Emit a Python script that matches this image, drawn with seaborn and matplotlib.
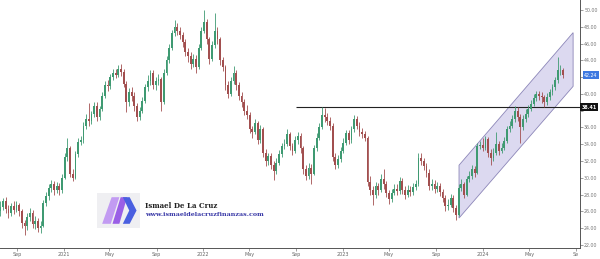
import numpy as np
import pandas as pd
import matplotlib
matplotlib.use("Agg")
import matplotlib.pyplot as plt
import matplotlib.dates as mdates
from matplotlib.patches import Polygon
import seaborn as sns

# ---------------- data (weekly candles) ----------------
start_week = "2020-07-20"
opens = [
    26.0, 26.5, 27.2, 26.3, 25.8, 26.6, 26.2, 26.8, 26.0, 24.6,
    24.2, 25.3, 25.8, 24.5, 24.8, 24.0, 24.3, 27.0, 27.8, 28.8,
    29.2, 28.6, 29.0, 28.5, 30.0, 32.5, 33.5, 30.5, 30.0, 32.8,
    34.3, 34.5, 36.2, 37.0, 36.8, 37.6, 38.6, 37.2, 38.2, 39.8,
    41.0, 40.9, 42.0, 42.5, 42.3, 43.0, 42.6, 41.2, 39.0, 40.2,
    39.8, 38.5, 37.2, 38.0, 39.2, 40.8, 41.5, 42.5, 41.0, 41.5,
    41.8, 39.0, 42.5, 44.0, 45.5, 47.2, 48.0, 47.5, 47.0, 46.2,
    45.0, 44.5, 43.6, 44.2, 43.2, 45.5, 47.5, 48.6, 46.5, 44.2,
    45.8, 47.5, 46.5, 44.0, 43.2, 41.0, 40.0, 41.5, 42.5, 41.0,
    39.8, 39.0, 38.0, 37.5, 35.8, 35.5, 36.5, 34.5, 35.8, 33.0,
    32.0, 32.6, 31.5, 30.8, 31.8, 32.8, 33.8, 34.0, 35.2, 33.8,
    33.2, 34.5, 35.0, 33.5, 31.0, 30.2, 31.2, 30.5, 33.5, 34.8,
    36.0, 37.5, 37.2, 36.8, 36.2, 32.5, 31.5, 32.2, 33.2, 34.2,
    35.3, 34.5, 35.8, 37.0, 36.2, 35.5, 35.2, 34.8, 29.5, 28.6,
    28.0, 29.0, 28.6, 29.8, 29.2, 28.2, 27.5, 28.2, 28.7, 28.4,
    29.6, 28.6, 28.0, 28.6, 28.3, 28.9, 29.2, 32.3, 32.0, 31.4,
    30.6, 29.0, 29.3, 28.7, 29.0, 28.3, 27.6, 26.6, 26.8, 27.6,
    26.4, 25.6, 28.8, 29.2, 28.0, 29.8, 30.2, 31.0, 30.6, 33.8,
    33.9, 33.6, 34.6, 33.0, 32.3, 33.0, 34.0, 33.2, 33.6, 34.4,
    35.8, 36.2, 37.0, 38.0, 37.2, 36.0, 37.0, 37.6, 38.2, 38.8,
    39.5, 40.0, 39.8, 39.6, 39.0, 39.6, 40.2, 40.8, 41.6, 42.8, 42.9,
]
closes = [
    26.5, 27.2, 26.3, 25.8, 26.6, 26.2, 26.8, 26.0, 24.6, 24.2,
    25.3, 25.8, 24.5, 24.8, 24.0, 24.3, 27.0, 27.8, 28.8, 29.2,
    28.6, 29.0, 28.5, 30.0, 32.5, 33.5, 30.5, 30.0, 32.8, 34.3,
    34.5, 36.2, 37.0, 36.8, 37.6, 38.6, 37.2, 38.2, 39.8, 41.0,
    40.9, 42.0, 42.5, 42.3, 43.0, 42.6, 41.2, 39.0, 40.2, 39.8,
    38.5, 37.2, 38.0, 39.2, 40.8, 41.5, 42.5, 41.0, 41.5, 41.8,
    39.0, 42.5, 44.0, 45.5, 47.2, 48.0, 47.5, 47.0, 46.2, 45.0,
    44.5, 43.6, 44.2, 43.2, 45.5, 47.5, 48.6, 46.5, 44.2, 45.8,
    47.5, 46.5, 44.0, 43.2, 41.0, 40.0, 41.5, 42.5, 41.0, 39.8,
    39.0, 38.0, 37.5, 35.8, 35.5, 36.5, 34.5, 35.8, 33.0, 32.0,
    32.6, 31.5, 30.8, 31.8, 32.8, 33.8, 34.0, 35.2, 33.8, 33.2,
    34.5, 35.0, 33.5, 31.0, 30.2, 31.2, 30.5, 33.5, 34.8, 36.0,
    37.5, 37.2, 36.8, 36.2, 32.5, 31.5, 32.2, 33.2, 34.2, 35.3,
    34.5, 35.8, 37.0, 36.2, 35.5, 35.2, 34.8, 29.5, 28.6, 28.0,
    29.0, 28.6, 29.8, 29.2, 28.2, 27.5, 28.2, 28.7, 28.4, 29.6,
    28.6, 28.0, 28.6, 28.3, 28.9, 29.2, 32.3, 32.0, 31.4, 30.6,
    29.0, 29.3, 28.7, 29.0, 28.3, 27.6, 26.6, 26.8, 27.6, 26.4,
    25.6, 28.8, 29.2, 28.0, 29.8, 30.2, 31.0, 30.6, 33.8, 33.9,
    33.6, 34.6, 33.0, 32.3, 33.0, 34.0, 33.2, 33.6, 34.4, 35.8,
    36.2, 37.0, 38.0, 37.2, 36.0, 37.0, 37.6, 38.2, 38.8, 39.5,
    40.0, 39.8, 39.6, 39.0, 39.6, 40.2, 40.8, 41.6, 42.8, 42.9, 42.24,
]
highs = [
    27.2, 27.6, 27.7, 26.8, 27.0, 27.2, 27.2, 27.0, 26.3, 25.0,
    25.8, 26.4, 26.1, 25.4, 25.2, 24.9, 27.4, 28.3, 29.3, 29.7,
    29.6, 29.5, 29.4, 30.4, 32.9, 34.8, 33.8, 31.0, 33.2, 34.7,
    35.0, 36.6, 37.6, 38.9, 38.0, 39.0, 39.0, 38.6, 40.2, 41.5,
    41.6, 42.4, 43.0, 43.0, 43.5, 43.6, 43.0, 41.5, 40.7, 40.8,
    40.2, 38.9, 38.4, 39.6, 41.2, 42.2, 42.8, 42.9, 42.0, 42.4,
    42.0, 43.0, 44.5, 46.0, 47.6, 48.8, 48.5, 48.0, 47.4, 46.6,
    45.5, 45.0, 44.8, 44.6, 45.9, 48.0, 50.0, 48.9, 46.8, 46.3,
    49.6, 48.0, 46.8, 44.4, 43.5, 41.5, 42.0, 43.3, 42.8, 41.4,
    40.2, 39.4, 38.7, 37.8, 36.2, 37.0, 36.8, 36.3, 36.0, 33.4,
    33.0, 33.0, 32.0, 32.3, 33.3, 34.2, 34.6, 35.8, 35.5, 34.2,
    35.0, 35.4, 35.3, 33.8, 31.5, 31.8, 31.6, 33.9, 35.3, 36.5,
    38.4, 38.3, 37.7, 37.2, 36.5, 32.9, 32.7, 33.7, 34.7, 35.7,
    35.7, 36.2, 37.5, 37.4, 36.6, 35.9, 35.6, 35.0, 30.2, 29.0,
    29.5, 29.4, 30.5, 31.0, 29.6, 28.6, 28.7, 29.2, 29.2, 30.1,
    30.0, 29.0, 29.1, 29.0, 29.4, 29.7, 33.0, 32.9, 32.4, 31.8,
    31.0, 29.8, 29.7, 29.5, 29.4, 28.7, 28.0, 27.5, 28.1, 28.0,
    26.8, 29.2, 29.8, 29.5, 30.2, 30.8, 31.5, 31.4, 34.2, 34.4,
    34.8, 35.0, 34.9, 33.4, 33.5, 35.5, 34.4, 34.1, 34.9, 36.2,
    36.8, 37.5, 38.5, 38.4, 37.6, 37.5, 38.2, 38.7, 39.3, 40.0,
    40.4, 40.3, 40.2, 39.9, 40.1, 40.6, 41.2, 42.0, 44.4, 43.4, 43.1,
]
lows = [
    25.4, 26.1, 25.8, 25.2, 25.4, 25.7, 25.9, 25.5, 24.0, 23.2,
    23.8, 24.9, 24.0, 23.9, 23.5, 23.4, 24.1, 26.6, 27.4, 28.3,
    28.0, 28.2, 28.0, 28.2, 29.8, 32.0, 30.1, 29.6, 29.8, 32.5,
    33.9, 34.2, 35.8, 36.2, 36.4, 37.2, 36.8, 36.9, 37.9, 39.5,
    40.3, 40.6, 41.6, 41.9, 42.0, 42.1, 40.8, 37.8, 38.6, 39.2,
    38.0, 36.8, 36.9, 37.7, 38.9, 40.4, 41.0, 40.6, 40.5, 41.0,
    38.0, 38.8, 42.2, 43.7, 45.2, 46.9, 47.0, 46.5, 45.6, 44.5,
    43.8, 43.0, 43.2, 42.5, 43.0, 45.2, 47.2, 46.0, 43.6, 43.9,
    45.5, 46.0, 43.5, 42.7, 40.5, 39.5, 39.8, 41.2, 40.5, 39.3,
    38.4, 37.5, 37.0, 35.3, 34.8, 35.2, 34.0, 34.2, 32.5, 31.4,
    31.5, 31.0, 29.7, 30.4, 31.5, 32.5, 33.4, 33.8, 33.3, 32.7,
    33.0, 34.0, 33.0, 30.5, 29.7, 29.9, 29.3, 30.3, 33.2, 34.5,
    35.8, 36.7, 36.3, 35.7, 32.0, 31.0, 31.2, 31.9, 32.9, 33.9,
    34.0, 34.2, 35.5, 35.8, 35.0, 34.7, 34.4, 29.0, 28.0, 26.8,
    27.6, 28.0, 28.3, 28.7, 27.7, 26.9, 27.1, 27.9, 27.9, 28.1,
    28.1, 27.5, 27.7, 27.8, 28.0, 28.5, 29.0, 31.5, 30.9, 30.1,
    28.5, 28.6, 28.2, 28.3, 27.8, 27.1, 26.0, 26.1, 26.5, 25.9,
    25.0, 25.4, 28.4, 27.6, 27.8, 29.5, 29.9, 30.1, 30.4, 33.4,
    33.2, 33.3, 32.5, 31.5, 32.0, 32.7, 32.7, 32.9, 33.3, 34.1,
    35.4, 35.9, 36.7, 36.8, 34.2, 35.7, 36.7, 37.3, 37.9, 38.5,
    39.2, 39.3, 38.9, 38.4, 38.7, 39.3, 39.9, 40.5, 41.3, 42.3, 41.9,
]
resistance_level = 38.41
last_price = 42.24
resistance_start = "2022-09-01"
channel_dates = ["2023-10-31", "2024-08-24"]
channel_upper = [31.5, 47.3]
channel_lower = [25.2, 40.9]
tick_dates = ["2020-09-01", "2021-01-01", "2021-05-01", "2021-09-01",
              "2022-01-01", "2022-05-01", "2022-09-01", "2023-01-01",
              "2023-05-01", "2023-09-01", "2024-01-01", "2024-05-01",
              "2024-09-01"]
tick_labels = ["Sep", "2021", "May", "Sep", "2022", "May", "Sep", "2023",
               "May", "Sep", "2024", "May", "Se"]
y_ticks = [22, 24, 26, 28, 30, 32, 34, 36, 38, 40, 42, 44, 46, 48, 50]
y_tick_labels = ["22.00", "24.00", "26.00", "28.00", "30.00", "32.00",
                 "34.00", "36.00", "", "40.00", "", "44.00", "46.00",
                 "48.00", "50.00"]

# ---------------- figure ----------------
sns.set_theme(style="white")
plt.rcParams['font.family'] = ['DejaVu Sans']

df = pd.DataFrame({
    "date": pd.date_range(start_week, periods=len(closes), freq="7D"),
    "open": opens, "high": highs, "low": lows, "close": closes,
})
df["up"] = df["close"] >= df["open"]
green, red = "#3f9a72", "#a24f4f"
colors = np.where(df["up"], green, red)

fig = plt.figure(figsize=(6.0, 2.59), dpi=100)
ax = fig.add_axes([0.0, 11 / 259, 580 / 600, 248 / 259])
ax.set_facecolor("white")

# channel
cd = mdates.date2num(pd.to_datetime(channel_dates))
poly = Polygon([(cd[0], channel_lower[0]), (cd[0], channel_upper[0]),
                (cd[1], channel_upper[1]), (cd[1], channel_lower[1])],
               closed=True, facecolor="#dcd9f0", edgecolor="#8c86b8",
               linewidth=0.6, zorder=1)
ax.add_patch(poly)

# resistance line
ax.hlines(resistance_level, mdates.date2num(pd.Timestamp(resistance_start)),
          mdates.date2num(pd.Timestamp("2024-09-30")), color="#222222",
          linewidth=0.8, zorder=2)

# candles
dnum = mdates.date2num(df["date"])
ax.vlines(dnum, df["low"], df["high"], colors=colors, linewidth=0.6, zorder=3)
body_lo = np.minimum(df["open"], df["close"])
body_h = np.maximum(np.abs(df["close"] - df["open"]), 0.08)
ax.bar(dnum, body_h, bottom=body_lo, width=4.8, color=colors,
       linewidth=0, zorder=4)

ax.set_xlim(mdates.date2num(pd.Timestamp("2020-07-19")),
            mdates.date2num(pd.Timestamp("2024-09-11")))
ax.set_ylim(21.63, 51.19)

# axes styling
for s in ["left", "top"]:
    ax.spines[s].set_visible(False)
for s in ["right", "bottom"]:
    ax.spines[s].set_visible(True)
    ax.spines[s].set_color("#555555")
    ax.spines[s].set_linewidth(0.7)
ax.yaxis.tick_right()
ax.set_yticks(y_ticks)
ax.set_yticklabels(y_tick_labels)
ax.set_xticks(mdates.date2num(pd.to_datetime(tick_dates)))
ax.set_xticklabels(tick_labels)
ax.tick_params(axis="y", which="both", right=True, length=2, width=0.5,
               color="#777777", labelsize=3.4, labelcolor="#777777", pad=1)
ax.tick_params(axis="x", which="both", bottom=True, length=2, width=0.5,
               color="#777777", labelsize=3.5, labelcolor="#666666", pad=1)
ax.grid(False)

# price labels
ax.annotate(f"{last_price:.2f}", xy=(1.0, last_price),
            xycoords=("axes fraction", "data"), xytext=(3, 0),
            textcoords="offset points", fontsize=3.4, color="white",
            va="center", ha="left",
            bbox=dict(boxstyle="square,pad=0.25", fc="#3d78e0", ec="none"))
ax.annotate(f"{resistance_level:.2f}", xy=(1.0, resistance_level),
            xycoords=("axes fraction", "data"), xytext=(1, 0),
            textcoords="offset points", fontsize=3.4, color="white",
            va="center", ha="left", fontweight="bold",
            bbox=dict(boxstyle="square,pad=0.3", fc="#111111", ec="none"))

# watermark logo
lax = fig.add_axes([97 / 600, (259 - 228) / 259, 43 / 600, 35 / 259])
lax.set_xlim(0, 1)
lax.set_ylim(0, 1)
lax.set_facecolor("#efeff2")
for s in lax.spines.values():
    s.set_visible(False)
lax.set_xticks([])
lax.set_yticks([])
lax.add_patch(Polygon([(0.12, 0.12), (0.32, 0.12), (0.52, 0.88), (0.34, 0.88)],
                      closed=True, fc="#c29bf2", ec="none"))
lax.add_patch(Polygon([(0.36, 0.12), (0.52, 0.12), (0.70, 0.88), (0.55, 0.88)],
                      closed=True, fc="#9a5fe6", ec="none"))
lax.add_patch(Polygon([(0.60, 0.88), (0.76, 0.88), (0.92, 0.50), (0.76, 0.12),
                       (0.60, 0.12), (0.75, 0.50)],
                      closed=True, fc="#4a5fe0", ec="none"))

fig.text(145 / 600, 1 - 206 / 259, "Ismael De La Cruz", fontsize=5,
         family="DejaVu Serif", fontweight="bold", color="#222222",
         va="center", ha="left")
fig.text(145 / 600, 1 - 215 / 259, "www.ismaeldelacruzfinanzas.com",
         fontsize=4.6, family="DejaVu Serif", fontweight="bold",
         color="#3b3ba8", va="center", ha="left")

fig.savefig("out.png", dpi=100)
